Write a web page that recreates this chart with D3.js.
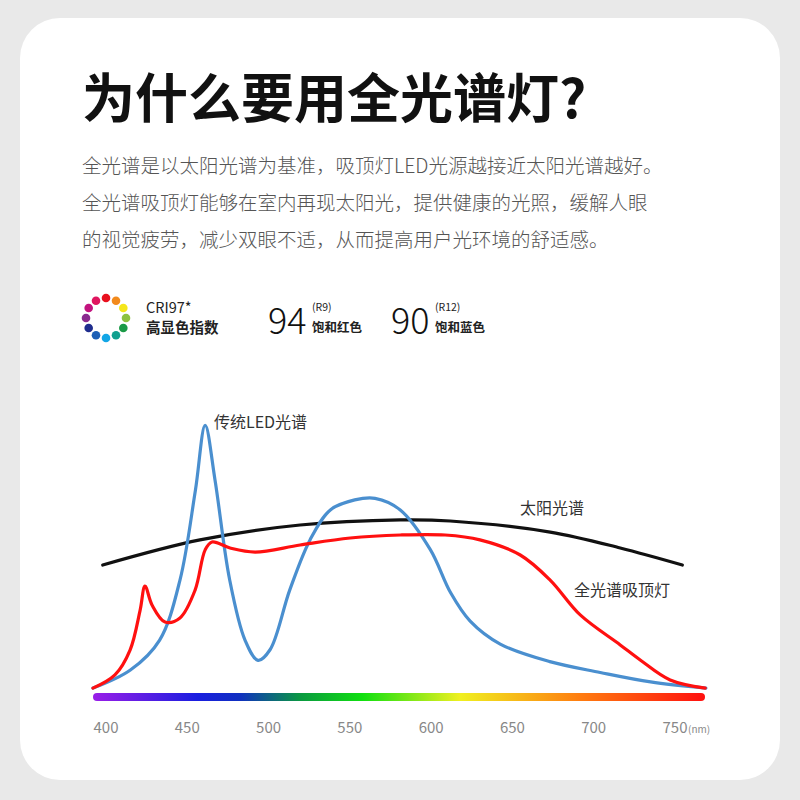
<!DOCTYPE html>
<html><head><meta charset="utf-8">
<script src="https://cdn.jsdelivr.net/npm/d3@7"></script>
<style>body{margin:0;background:#e9e9e9}</style>
</head><body>
<svg id="chart"></svg>
<script>
// spectrum data: [wavelength nm, relative intensity]
const ledSpectrum = [[392,0.7],[415,7.4],[433,18.5],[445.5,40.7],[455,74],[461,98],[467,78],[476,41],[485.5,18.5],[493.5,11],[501,15],[513,37],[525.5,55.6],[538,66.7],[553,70.4],[565.5,71],[581,66.7],[599.5,52],[612,36],[624,25.5],[642.5,17],[673,10.5],[704,6.5],[735,3],[769,0.7]];
const fullSpectrum = [[392,0.7],[405.5,5.6],[414.8,14.8],[421,29.6],[424,38.5],[428.3,31.5],[436.3,25.2],[445.5,26.7],[454.8,37],[461,51.9],[465.2,54.8],[476.3,52.6],[491.7,51.1],[519.4,53.7],[550.2,56.3],[581,57.4],[608.6,57.4],[630,55.6],[654.8,50],[673.2,40.7],[691.7,27.8],[716.3,16.7],[728.6,11.1],[747,3.7],[768.6,0.7]];
const sunSpectrum = [[398,46.3],[457.8,55.6],[519.4,61.1],[581,63],[611.7,62.6],[673.2,58.5],[716.3,52.6],[754.5,46.3]];
const ticks = [400,450,500,550,600,650,700,750];
const wheelColors = ["#e8101e","#f28a1c","#f5e61a","#8cc23f","#1a9a46","#11a08f","#12a6e6","#1d5fb6","#1f2d8e","#8a2a8e","#c2137e","#e0155f"];
const paragraph = ["全光谱是以太阳光谱为基准，吸顶灯LED光源越接近太阳光谱越好。","全光谱吸顶灯能够在室内再现太阳光，提供健康的光照，缓解人眼","的视觉疲劳，减少双眼不适，从而提高用户光环境的舒适感。"];

const font = "'Noto Sans CJK SC', 'Noto Sans', sans-serif";
const svg = d3.select("#chart").attr("width", 800).attr("height", 800)
  .style("font-family", font);

svg.append("rect").attr("x", 20).attr("y", 18).attr("width", 760).attr("height", 762)
  .attr("rx", 40).attr("fill", "#fff");

svg.append("text").attr("x", 82).attr("y", 118).attr("font-size", 53)
  .attr("font-weight", 600).attr("fill", "#111").text("为什么要用全光谱灯?");

svg.selectAll(".para").data(paragraph).enter().append("text")
  .attr("x", 82).attr("y", (d, i) => 173 + i * 37)
  .attr("font-size", 19.5).attr("font-weight", 300).attr("fill", "#555").text(d => d);

// colour wheel
const wheel = svg.append("g").attr("transform", "translate(106,318)");
wheel.selectAll("circle").data(wheelColors).enter().append("circle")
  .attr("cx", (d, i) => 20 * Math.sin(i * Math.PI / 6))
  .attr("cy", (d, i) => -20 * Math.cos(i * Math.PI / 6))
  .attr("r", 4.3).attr("fill", d => d);

svg.append("text").attr("x", 146).attr("y", 313).attr("font-size", 14.5).attr("fill", "#222").text("CRI97*");
svg.append("text").attr("x", 146).attr("y", 333).attr("font-size", 14.5).attr("font-weight", 700).attr("fill", "#222").text("高显色指数");

[[268, "94", "(R9)", "饱和红色"], [391, "90", "(R12)", "饱和蓝色"]].forEach(([x, n, r, t]) => {
  svg.append("text").attr("x", x).attr("y", 334).attr("font-size", 36).attr("font-weight", 300).attr("fill", "#111").text(n);
  svg.append("text").attr("x", x + 44).attr("y", 311).attr("font-size", 10.5).attr("fill", "#222").text(r);
  svg.append("text").attr("x", x + 44).attr("y", 332).attr("font-size", 12.5).attr("font-weight", 700).attr("fill", "#222").text(t);
});

// chart
const x = d3.scaleLinear().domain([400, 750]).range([106, 675]);
const y = d3.scaleLinear().domain([0, 100]).range([690, 420]);

const grad = svg.append("defs").append("linearGradient").attr("id", "rainbow");
[["0%","#9a1ee8"],["17%","#1a1ee0"],["24%","#1030c0"],["34%","#0a9a40"],["44%","#10e010"],["60%","#f0f020"],["80%","#ff7a10"],["100%","#ff1010"]]
  .forEach(([o, c]) => grad.append("stop").attr("offset", o).attr("stop-color", c));
svg.append("rect").attr("x", 93).attr("y", 693).attr("width", 612).attr("height", 8)
  .attr("rx", 4).attr("fill", "url(#rainbow)");

const line = d3.line().x(d => x(d[0])).y(d => y(d[1])).curve(d3.curveCatmullRom.alpha(0.5));
[[sunSpectrum, "#111"], [ledSpectrum, "#4a8fcf"], [fullSpectrum, "#ff1010"]].forEach(([data, c]) => {
  svg.append("path").datum(data).attr("d", line).attr("fill", "none")
    .attr("stroke", c).attr("stroke-width", 3.2).attr("stroke-linecap", "round");
});

svg.selectAll(".tick").data(ticks).enter().append("text")
  .attr("x", d => x(d)).attr("y", 733).attr("text-anchor", "middle")
  .attr("font-size", 15).attr("fill", "#888").text(d => d);
svg.append("text").attr("x", x(750) + 13).attr("y", 733).attr("font-size", 10).attr("fill", "#888").text("(nm)");

[[214, 428, "传统LED光谱"], [520, 514, "太阳光谱"], [574, 596, "全光谱吸顶灯"]].forEach(([lx, ly, t]) => {
  svg.append("text").attr("x", lx).attr("y", ly).attr("font-size", 16).attr("fill", "#333").text(t);
});
</script>
</body></html>
